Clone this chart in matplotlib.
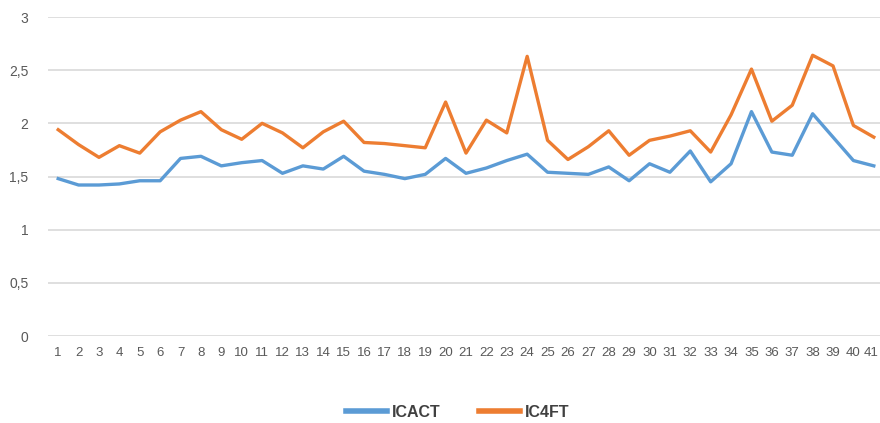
import matplotlib
matplotlib.use("Agg")
import matplotlib.pyplot as plt
from matplotlib.transforms import ScaledTranslation

plt.rcParams["font.family"] = ["Liberation Sans", "DejaVu Sans"]

points = list(range(1, 42))
icact = [1.48, 1.42, 1.42, 1.43, 1.46, 1.46, 1.67, 1.69, 1.60, 1.63,
         1.65, 1.53, 1.60, 1.57, 1.69, 1.55, 1.52, 1.48, 1.52, 1.67,
         1.53, 1.58, 1.65, 1.71, 1.54, 1.53, 1.52, 1.59, 1.46, 1.62,
         1.54, 1.74, 1.45, 1.62, 2.11, 1.73, 1.70, 2.09, 1.87, 1.65, 1.60]
ic4ft = [1.94, 1.80, 1.68, 1.79, 1.72, 1.92, 2.03, 2.11, 1.94, 1.85,
         2.00, 1.91, 1.77, 1.92, 2.02, 1.82, 1.81, 1.79, 1.77, 2.20,
         1.72, 2.03, 1.91, 2.63, 1.84, 1.66, 1.78, 1.93, 1.70, 1.84,
         1.88, 1.93, 1.73, 2.08, 2.51, 2.02, 2.17, 2.64, 2.54, 1.98, 1.87]
yticks = [0, 0.5, 1, 1.5, 2, 2.5, 3]
ytick_labels = ["0", "0,5", "1", "1,5", "2", "2,5", "3"]

W, H = 880, 423
fig = plt.figure(figsize=(W / 100, H / 100), dpi=100)
ax = fig.add_axes([48 / W, (H - 336) / H, 836 / W, (336 - 17) / H])

ax.plot(points, icact, color="#5B9BD5", linewidth=2.4, label="ICACT",
        solid_joinstyle="round")
ax.plot(points, ic4ft, color="#ED7D31", linewidth=2.4, label="IC4FT",
        solid_joinstyle="round")

ax.set_xlim(0.5, 41.5)
ax.set_ylim(0, 3)
ax.set_yticks(yticks)
ax.set_yticklabels(ytick_labels)
ax.set_xticks(points)
ax.set_xticklabels([str(p) for p in points])
ax.grid(axis="y", color="#d9d9d9", linewidth=1.2)
ax.set_axisbelow(True)
for s in ax.spines.values():
    s.set_visible(False)
ax.tick_params(length=0, colors="#595959", labelsize=9.5)
ax.tick_params(axis="y", pad=14, labelsize=10)
ax.tick_params(axis="x", pad=8)
# nudge the last label a little left so it stays inside the picture
last = ax.get_xticklabels()[-1]
last.set_transform(last.get_transform() + ScaledTranslation(-3 / 100, 0, fig.dpi_scale_trans))

leg = ax.legend(loc="upper center", bbox_to_anchor=(0.49, -0.17), ncol=2,
                frameon=False, handlelength=2.6, columnspacing=2.4,
                handletextpad=0.3, prop={"size": 11.5, "weight": "bold"})
for t in leg.get_texts():
    t.set_color("#404040")
for h in leg.legend_handles:
    h.set_linewidth(4)

fig.savefig("out.png", dpi=100)
